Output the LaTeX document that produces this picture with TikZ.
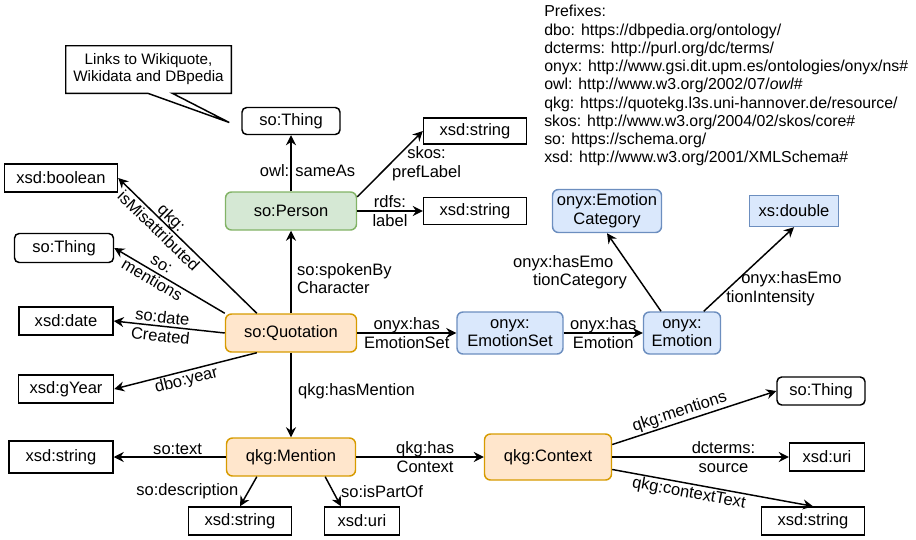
\documentclass[tikz,border=0pt]{standalone}
\usepackage{fontspec}
\setmainfont{Liberation Sans}
\usetikzlibrary{arrows.meta}

\newlength\pxu
\setlength\pxu{0.75pt}

\definecolor{grfill}{HTML}{D5E8D4}
\definecolor{grline}{HTML}{82B366}
\definecolor{orfill}{HTML}{FFE6CC}
\definecolor{orline}{HTML}{D79B00}
\definecolor{blfill}{HTML}{DAE8FC}
\definecolor{blline}{HTML}{6C8EBF}

\tikzset{
  sz/.style 2 args={minimum width=#1\pxu, minimum height=#2\pxu},
  box/.style={draw, line width=1.1pt, inner sep=0pt, align=center},
  lit/.style={box, fill=white},
  thing/.style={box, fill=white, rounded corners=3.5pt},
  person/.style={box, draw=grline, fill=grfill, rounded corners=4.5pt},
  quote/.style={box, draw=orline, fill=orfill, rounded corners=4.5pt},
  emo/.style={box, draw=blline, fill=blfill, rounded corners=4.5pt},
  emosq/.style={box, draw=blline, fill=blfill},
  arr/.style={->, line width=1.1pt},
  elab/.style={inner sep=1pt, align=center}
}

\begin{document}
\begin{tikzpicture}[x=1\pxu, y=-1\pxu, font=\fontsize{12.4pt}{14pt}\selectfont,
  >={Stealth[length=7.5pt, width=7.5pt, inset=2.5pt]}]
\useasboundingbox (0,0) rectangle (916,539);

% prefixes
\node[anchor=north west, inner sep=0pt, align=left, font=\fontsize{11.9pt}{13.7pt}\selectfont] (pfx) at (544,5)
  {Prefixes:\\
   dbo: https://dbpedia.org/ontology/\\
   dcterms: http://purl.org/dc/terms/\\
   onyx: http://www.gsi.dit.upm.es/ontologies/onyx/ns\#\\
   owl: http://www.w3.org/2002/07/\textit{owl}\#\\
   qkg: https://quotekg.l3s.uni-hannover.de/resource/\\
   skos: http://www.w3.org/2004/02/skos/core\#\\
   so: https://schema.org/\\
   xsd: http://www.w3.org/2001/XMLSchema\#};

% classes
\node[thing, sz={98}{27}] (thtop) at (291,121) {so:Thing};
\node[person, sz={131}{38}] (per) at (291,211) {so:Person};
\node[quote, sz={131}{38}] (quo) at (291,333) {so:Quotation};
\node[quote, sz={129}{38}] (men) at (291,457) {qkg:Mention};
\node[quote, sz={127}{46}] (ctx) at (548,457) {qkg:Context};
\node[emo, sz={106}{42}] (es) at (510,333) {onyx:\\EmotionSet};
\node[emo, sz={77}{42}] (emo) at (682,333) {onyx:\\Emotion};
\node[emo, sz={109}{43}] (cat) at (607,211) {onyx:Emotion\\Category};
\node[emosq, sz={89}{31}] (dbl) at (794,211) {xs:double};

% literals and things
\node[lit, sz={103}{26}] (pref) at (475,131) {xsd:string};
\node[lit, sz={103}{27}] (lab) at (475,211) {xsd:string};
\node[lit, sz={113}{28}] (bool) at (61,178) {xsd:boolean};
\node[thing, sz={99}{29}] (thleft) at (64,248) {so:Thing};
\node[lit, sz={94}{28}] (date) at (66,321) {xsd:date};
\node[lit, sz={95}{28}] (year) at (66,389) {xsd:gYear};
\node[lit, sz={104}{32}] (text) at (61,457) {xsd:string};
\node[lit, sz={103}{28}] (desc) at (240,521) {xsd:string};
\node[lit, sz={75}{28}] (part) at (362,521) {xsd:uri};
\node[thing, sz={88}{28}] (thright) at (821,391) {so:Thing};
\node[lit, sz={75}{28}] (src) at (827,457) {xsd:uri};
\node[lit, sz={103}{28}] (ctxt) at (813,521) {xsd:string};

% callout
\node[sz={165}{47}, inner sep=0pt, align=center, font=\fontsize{11.4pt}{12.75pt}\selectfont] (note) at (148.5,69.5)
  {Links to Wikiquote,\\Wikidata and DBpedia};
\coordinate (tip) at ([xshift=-12\pxu, yshift=-1.5\pxu]thtop.west);
\draw[line width=1.1pt] (note.north west) -- (note.north east) -- (note.south east)
  -- ([xshift=-59\pxu]note.south east) -- (tip) -- ([xshift=82\pxu]note.south west)
  -- (note.south west) -- cycle;

% person
\draw[arr] (per) -- (thtop) node[elab, pos=0.37, xshift=16.5\pxu] {owl: sameAs};
\draw[arr] (per.12) -- (pref.west) node[elab, midway, right] {skos:\\prefLabel};
\draw[arr] (per.east) -- (lab.west) node[elab, midway] {rdfs:\\label};

% quotation
\draw[arr] (quo) -- (per) node[elab, pos=0.42, right, xshift=4\pxu, align=left] {so:spokenBy\\Character};
\draw[arr] (quo.150) -- (bool.east) node[elab, sloped, pos=0.66] {qkg:\\isMisattributed};
\draw[arr] (quo.north west) -- (thleft.east) node[elab, sloped, pos=0.62] {so:\\mentions};
\draw[arr] (quo.west) -- (date.east) node[elab, sloped, pos=0.57] {so:date\\Created};
\draw[arr] (quo.210) -- (year.east) node[elab, sloped, below, pos=0.51] {dbo:year};
\draw[arr] (quo) -- (es) node[elab, midway] {onyx:has\\EmotionSet};
\draw[arr] (quo) -- (men) node[elab, pos=0.45, right, xshift=5\pxu] {qkg:hasMention};

% emotions
\draw[arr] (es) -- (emo) node[elab, midway] {onyx:has\\Emotion};
\draw[arr] (emo.134) -- (cat.south) node[elab, midway, anchor=east, xshift=-5\pxu, align=left]
  {onyx:hasEmo\\\hspace*{20\pxu}tionCategory};
\draw[arr] (emo.45) -- (dbl.south) node[elab, midway, xshift=35\pxu, yshift=-19.5\pxu, align=left]
  {\hspace*{15\pxu}onyx:hasEmo\\tionIntensity};

% mention
\draw[arr] (men) -- (text) node[elab, pos=0.43, above] {so:text};
\draw[arr] (men.210) -- (desc.north) node[elab, midway, left, xshift=-8\pxu] {so:description};
\draw[arr] (men.-30) -- (part.145) node[elab, midway, right, xshift=6\pxu] {so:isPartOf};
\draw[arr] (men) -- (ctx) node[elab, pos=0.54] {qkg:has\\Context};

% context
\draw[arr] (ctx.11) -- (thright.west) node[elab, sloped, above, pos=0.43] {qkg:mentions};
\draw[arr] (ctx) -- (src) node[elab, pos=0.63] {dcterms:\\source};
\draw[arr] (ctx.-11) -- (ctxt.north) node[elab, sloped, below, pos=0.39] {qkg:contextText};
\end{tikzpicture}
\end{document}
